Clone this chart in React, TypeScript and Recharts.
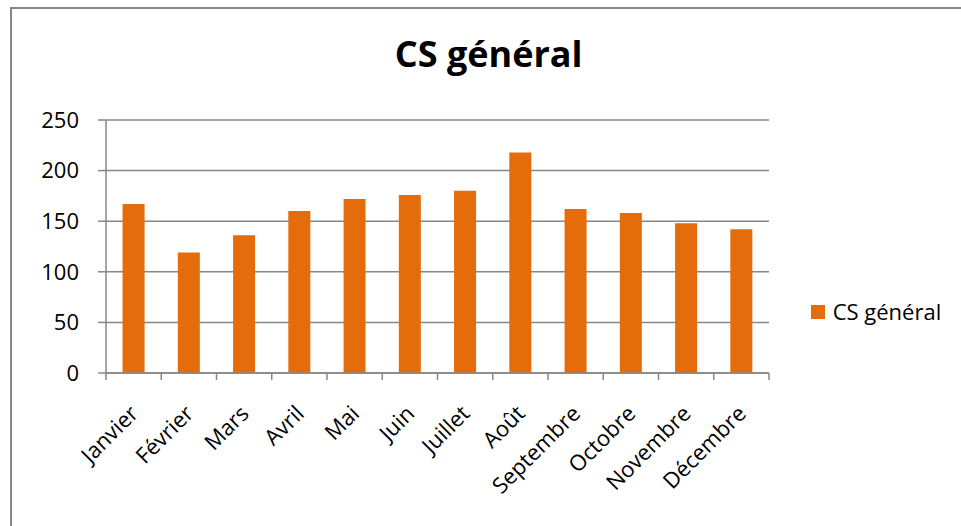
import React from 'react';
import { BarChart, Bar, XAxis, YAxis, CartesianGrid, Legend } from 'recharts';

const months = ['Janvier', 'Février', 'Mars', 'Avril', 'Mai', 'Juin', 'Juillet', 'Août', 'Septembre', 'Octobre', 'Novembre', 'Décembre'];
const csGeneral = [167, 119, 136, 160, 172, 176, 180, 218, 162, 158, 148, 142];
const yTicks = [0, 50, 100, 150, 200, 250];
const seriesName = 'CS général';
const chartTitle = 'CS général';

const data = months.map((m, i) => ({ month: m, cs: csGeneral[i] }));

const W = 961;
const H = 526;
const MARGIN = { top: 120, right: 192, bottom: 0, left: 0 };
const YW = 106;
const XH = 153;
const BAND = (W - YW - MARGIN.right) / months.length;
const AXIS = '#878787';
const BAR = '#E46C0A';
const FONT = "'Open Sans', sans-serif";

function XTick(props: any) {
  const { x, y, payload, index } = props;
  const left = x - BAND / 2;
  const ax = x + 6;
  const ay = y + 42;
  return (
    <g>
      <line x1={left} x2={left} y1={y} y2={y + 7} stroke={AXIS} strokeWidth={1.5} />
      {index === months.length - 1 && (
        <line x1={x + BAND / 2} x2={x + BAND / 2} y1={y} y2={y + 7} stroke={AXIS} strokeWidth={1.5} />
      )}
      <text
        x={ax}
        y={ay}
        textAnchor="end"
        transform={`rotate(-45 ${ax} ${ay})`}
        fontSize={22}
        fontFamily={FONT}
        fill="#000"
      >
        {payload.value}
      </text>
    </g>
  );
}

function LegendContent(props: any) {
  const { payload } = props;
  return (
    <div>
      {(payload || []).map((p: any) => (
        <div key={p.value} style={{ display: 'flex', alignItems: 'flex-start' }}>
          <div style={{ width: 14, height: 14, background: p.color, marginTop: 5.5 }} />
          <div style={{ marginLeft: 7.7, fontSize: 22, lineHeight: '22px', fontFamily: FONT, color: '#000', whiteSpace: 'nowrap' }}>
            {p.value}
          </div>
        </div>
      ))}
    </div>
  );
}

export default function App() {
  return (
    <div style={{ position: 'absolute', left: 0, top: 0, width: W, height: H, overflow: 'hidden', background: '#fff' }}>
      <div
        style={{
          position: 'absolute',
          left: 10,
          top: 7,
          width: W,
          height: H,
          borderTop: `2px solid ${AXIS}`,
          borderLeft: `2px solid ${AXIS}`,
        }}
      />
      <div
        style={{
          position: 'absolute',
          left: 0,
          top: 35.7,
          width: 977.4,
          textAlign: 'center',
          fontFamily: FONT,
          fontWeight: 700,
          fontSize: 36,
          lineHeight: '36px',
          color: '#000',
        }}
      >
        {chartTitle}
      </div>
      <div style={{ position: 'absolute', left: 0, top: 0 }}>
        <BarChart width={W} height={H} data={data} margin={MARGIN} barCategoryGap="30%">
          <CartesianGrid vertical={false} stroke={AXIS} strokeWidth={1.5} />
          <XAxis
            dataKey="month"
            interval={0}
            height={XH}
            tickSize={0}
            tickMargin={0}
            tickLine={false}
            axisLine={{ stroke: AXIS, strokeWidth: 1.5 }}
            tick={<XTick />}
          />
          <YAxis
            width={YW}
            domain={[0, 250]}
            ticks={yTicks}
            interval={0}
            tickSize={8}
            tickMargin={19}
            axisLine={{ stroke: AXIS, strokeWidth: 1.5 }}
            tickLine={{ stroke: AXIS, strokeWidth: 1.5 }}
            tick={{ fontSize: 22, fontFamily: FONT, fill: '#000' }}
          />
          <Legend
            layout="vertical"
            align="center"
            verticalAlign="middle"
            wrapperStyle={{ left: 811, top: 299.5, width: 150 }}
            content={<LegendContent />}
          />
          <Bar dataKey="cs" name={seriesName} fill={BAR} isAnimationActive={false} />
        </BarChart>
      </div>
    </div>
  );
}
